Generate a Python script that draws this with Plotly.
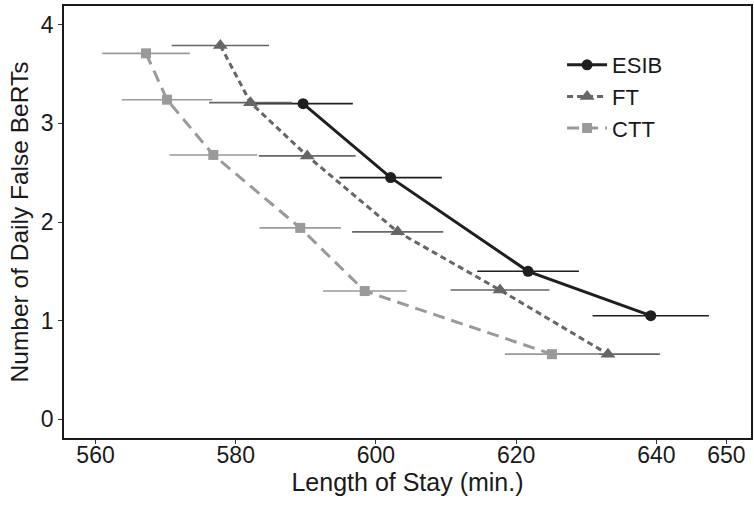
import plotly.graph_objects as go

# ESIB
esib_x = [589.6, 602.1, 621.7, 639.2]
esib_y = [3.20, 2.45, 1.50, 1.05]
esib_err = [7.1, 7.3, 7.25, 8.3]
# FT
ft_x = [577.8, 582.1, 590.2, 603.1, 617.7, 633.1]
ft_y = [3.79, 3.21, 2.67, 1.90, 1.31, 0.66]
ft_err = [6.95, 5.9, 6.9, 6.5, 7.05, 7.4]
# CTT
ctt_x = [567.2, 570.2, 576.8, 589.2, 598.4, 625.1]
ctt_y = [3.71, 3.24, 2.68, 1.94, 1.30, 0.66]
ctt_err = [6.25, 6.45, 6.25, 5.8, 5.95, 6.7]

x_ticks = [560, 580, 600, 620, 640, 650]
y_ticks = [0, 1, 2, 3, 4]

series = [
    ("ESIB", esib_x, esib_y, esib_err, "#1f1f1f", "solid", "circle", 11),
    ("FT", ft_x, ft_y, ft_err, "#666666", "6px,4px", "triangle-up", 13),
    ("CTT", ctt_x, ctt_y, ctt_err, "#9a9a9a", "12px,7px", "square", 10),
]

fig = go.Figure()
for name, xs, ys, err, col, dash, sym, size in series:
    fig.add_trace(go.Scatter(
        x=xs, y=ys, name=name, mode="lines+markers",
        line=dict(color=col, width=3, dash=dash),
        marker=dict(symbol=sym, size=size, color=col),
        error_x=dict(type="data", array=err, symmetric=True, width=0,
                     thickness=1.6, color=col),
    ))

font = "Liberation Sans, Arial, sans-serif"
fig.update_layout(
    width=754, height=505,
    margin=dict(l=64, r=1, t=6, b=67),
    plot_bgcolor="white", paper_bgcolor="white",
    font=dict(family=font, size=23, color="#1a1a1a"),
    showlegend=True,
    legend=dict(x=0.725, y=0.912, xanchor="left", yanchor="top",
                bgcolor="rgba(0,0,0,0)", font=dict(size=22),
                tracegroupgap=0, itemwidth=40),
    xaxis=dict(range=[555.5, 653.5], tickvals=x_ticks, ticktext=[str(v) for v in x_ticks],
               showgrid=False, zeroline=False, showline=True, linecolor="#1a1a1a",
               linewidth=1.5, mirror=True, ticks="outside", ticklen=4, tickcolor="#333",
               tickfont=dict(size=23), ticklabelstandoff=-8,
               title=dict(text="Length of Stay (min.)", standoff=0, font=dict(size=25))),
    yaxis=dict(range=[-0.19, 4.19], tickvals=y_ticks, ticktext=[str(v) for v in y_ticks],
               showgrid=False, zeroline=False, showline=True, linecolor="#1a1a1a",
               linewidth=1.5, mirror=True, ticks="outside", ticklen=4, tickcolor="#333",
               tickfont=dict(size=23),
               title=dict(text="Number of Daily False BeRTs", standoff=5, font=dict(size=24.5))),
)

fig.write_html("out.html", post_script="document.body.style.margin='0';",
               config={"displayModeBar": False})
